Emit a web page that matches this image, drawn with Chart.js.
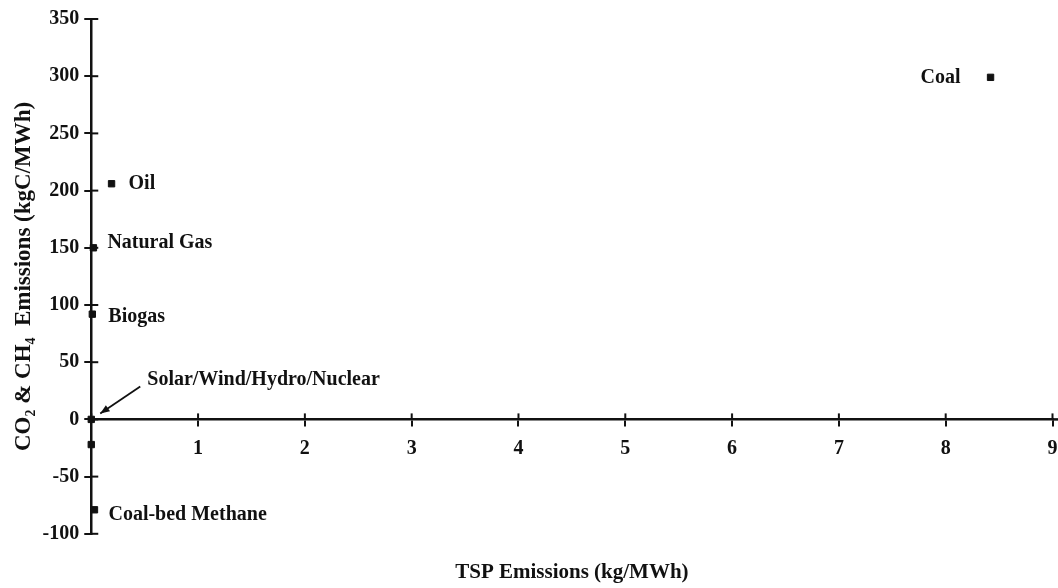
<!DOCTYPE html>
<html><head><meta charset="utf-8">
<script src="https://cdn.jsdelivr.net/npm/chart.js@4"></script>
<style>html,body{margin:0;padding:0;background:#fff}#wrap{width:1058px;height:588px;position:relative}</style>
</head><body><div id="wrap"><canvas id="c"></canvas></div>
<script>
// ---- data ----
const sources = ['Coal', 'Oil', 'Natural Gas', 'Biogas', 'Solar/Wind/Hydro/Nuclear', '', 'Coal-bed Methane'];
const tspValues = [8.42, 0.19, 0.02, 0.01, 0, 0, 0.03];
const co2ch4Values = [299, 206, 150, 92, 0, -22, -79];
const xTickValues = [0, 1, 2, 3, 4, 5, 6, 7, 8, 9];
const yTickValues = [-100, -50, 0, 50, 100, 150, 200, 250, 300, 350];
const xTitle = 'TSP Emissions (kg/MWh)';
const yTitle = 'CO\u2082 & CH\u2084  Emissions (kgC/MWh)';

// ---- label placement (style, not data) ----
const labelPlacement = [
  {dx: -30, dy: 0, align: 'right'},
  {dx: 17, dy: 0},
  {dx: 14, dy: -5},
  {dx: 16, dy: 3},
  {dx: 56, dy: -40, arrow: {x1: 49, y1: -33, x2: 9, y2: -6}},
  null,
  {dx: 14, dy: 5}
];

const FONT = "'Liberation Serif', 'Times New Roman', serif";
const INK = '#111';

const innerTicks = {
  id: 'innerTicks',
  afterDraw(chart) {
    const {ctx, scales: {x, y}, chartArea} = chart;
    ctx.save();
    ctx.strokeStyle = INK;
    ctx.lineWidth = 2;
    const y0 = y.getPixelForValue(0);
    x.ticks.forEach(t => {
      const px = x.getPixelForValue(t.value);
      ctx.beginPath(); ctx.moveTo(px, y0); ctx.lineTo(px, y0 - 6); ctx.stroke();
    });
    y.ticks.forEach(t => {
      const py = y.getPixelForValue(t.value);
      ctx.beginPath(); ctx.moveTo(chartArea.left, py); ctx.lineTo(chartArea.left + 7, py); ctx.stroke();
    });
    // x axis line continues to the canvas edge
    ctx.lineWidth = 2.5;
    ctx.beginPath(); ctx.moveTo(chartArea.right, y0); ctx.lineTo(chart.width, y0); ctx.stroke();
    ctx.restore();
  }
};

const pointNames = {
  id: 'pointNames',
  afterDatasetsDraw(chart) {
    const {ctx, scales: {x, y}} = chart;
    ctx.save();
    ctx.fillStyle = INK;
    ctx.strokeStyle = INK;
    ctx.font = "bold 20px " + FONT;
    ctx.textBaseline = 'middle';
    sources.forEach((name, i) => {
      const p = labelPlacement[i];
      if (!p || !name) return;
      const px = x.getPixelForValue(tspValues[i]);
      const py = y.getPixelForValue(co2ch4Values[i]);
      ctx.textAlign = p.align || 'left';
      ctx.fillText(name, px + p.dx, py + p.dy);
      if (p.arrow) {
        const a = p.arrow;
        const x1 = px + a.x1, y1 = py + a.y1, x2 = px + a.x2, y2 = py + a.y2;
        ctx.lineWidth = 1.8;
        ctx.beginPath(); ctx.moveTo(x1, y1); ctx.lineTo(x2, y2); ctx.stroke();
        const ang = Math.atan2(y2 - y1, x2 - x1);
        const L = 10, W = 0.38;
        ctx.beginPath();
        ctx.moveTo(x2, y2);
        ctx.lineTo(x2 - L * Math.cos(ang - W), y2 - L * Math.sin(ang - W));
        ctx.lineTo(x2 - L * Math.cos(ang + W), y2 - L * Math.sin(ang + W));
        ctx.closePath(); ctx.fill();
      }
    });
    ctx.restore();
  }
};

new Chart(document.getElementById('c'), {
  type: 'scatter',
  data: {
    datasets: [{
      data: tspValues.map((v, i) => ({x: v, y: co2ch4Values[i]})),
      backgroundColor: INK,
      borderColor: INK,
      pointStyle: 'rect',
      pointRadius: 4.5,
      pointHoverRadius: 4.5,
      clip: false
    }]
  },
  options: {
    responsive: true,
    maintainAspectRatio: false,
    animation: false,
    events: [],
    layout: {padding: {left: 4, right: 4, top: 19, bottom: 0}},
    plugins: {
      legend: {display: false},
      tooltip: {enabled: false},
      title: {
        display: true, position: 'bottom', fullSize: false,
        text: xTitle, color: INK,
        font: {family: FONT, size: 21, weight: 'bold'},
        padding: {top: 26, bottom: 3}
      }
    },
    scales: {
      x: {
        type: 'linear',
        position: {y: 0},
        min: 0, max: 9,
        afterBuildTicks: s => { s.ticks = xTickValues.map(v => ({value: v})); },
        afterFit: s => { s.paddingRight = 0; s.paddingLeft = 0; },
        grid: {drawOnChartArea: false, color: INK, tickLength: 6, lineWidth: 2},
        border: {color: INK, width: 2.5},
        ticks: {
          color: INK, padding: 11, maxRotation: 0, autoSkip: false,
          font: {family: FONT, size: 20, weight: 'bold'},
          callback: v => (v === 0 ? '' : String(v))
        }
      },
      y: {
        type: 'linear',
        position: 'left',
        min: -100, max: 350,
        afterBuildTicks: s => { s.ticks = yTickValues.map(v => ({value: v})); },
        grid: {drawOnChartArea: false, color: INK, tickLength: 7, lineWidth: 2},
        border: {color: INK, width: 2.5},
        ticks: {
          color: INK, padding: 5, autoSkip: false,
          font: {family: FONT, size: 20, weight: 'bold'}
        },
        title: {
          display: true, text: yTitle, color: INK,
          font: {family: FONT, size: 23, weight: 'bold'},
          padding: {top: 6, bottom: 0}
        }
      }
    }
  },
  plugins: [innerTicks, pointNames]
});
</script>
</body></html>
